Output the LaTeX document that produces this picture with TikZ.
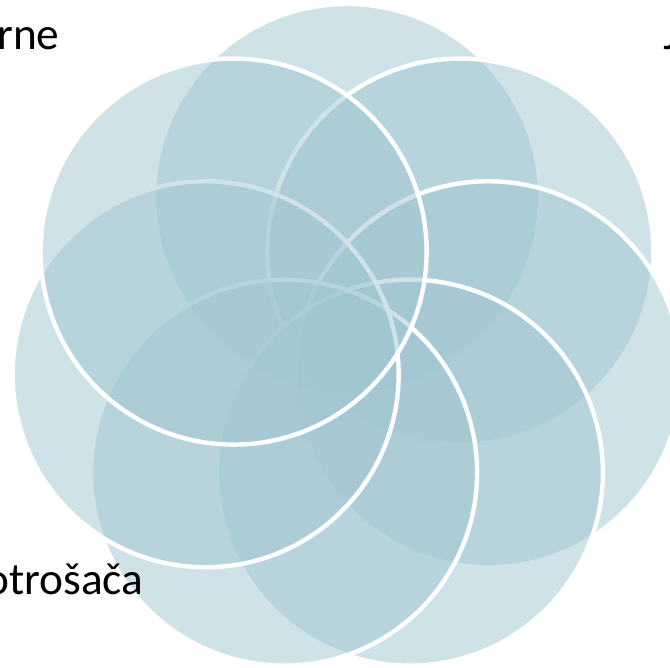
\documentclass[tikz,border=0pt]{standalone}
\usepackage{fontspec}
\setmainfont{Carlito}
\definecolor{petalblue}{RGB}{160,198,208}

\begin{document}
\begin{tikzpicture}[
  x=0.02cm, y=0.02cm,
  petal/.style={draw=white, line width=2.5pt, fill=petalblue,
                fill opacity=0.5},
  cut/.style={anchor=base west, inner sep=0pt, text=black,
              font=\fontsize{25.8}{31}\selectfont}
]
  \clip (0,0) rectangle (670,667);
  \coordinate (hub) at (347,325);

  % seven petals, clockwise from the top
  \foreach \k in {0,...,6}
    \draw[petal] (hub) ++({90-\k*360/7}:145) circle[radius=193];

  % slide text cut by the frame
  \node[cut] (leftTop)  at (-3,617)  {rne};
  \node[cut] (rightTop) at (663,617) {J};
  \node[cut] (leftLow)  at (-15,73)  {otrošača};
\end{tikzpicture}
\end{document}
